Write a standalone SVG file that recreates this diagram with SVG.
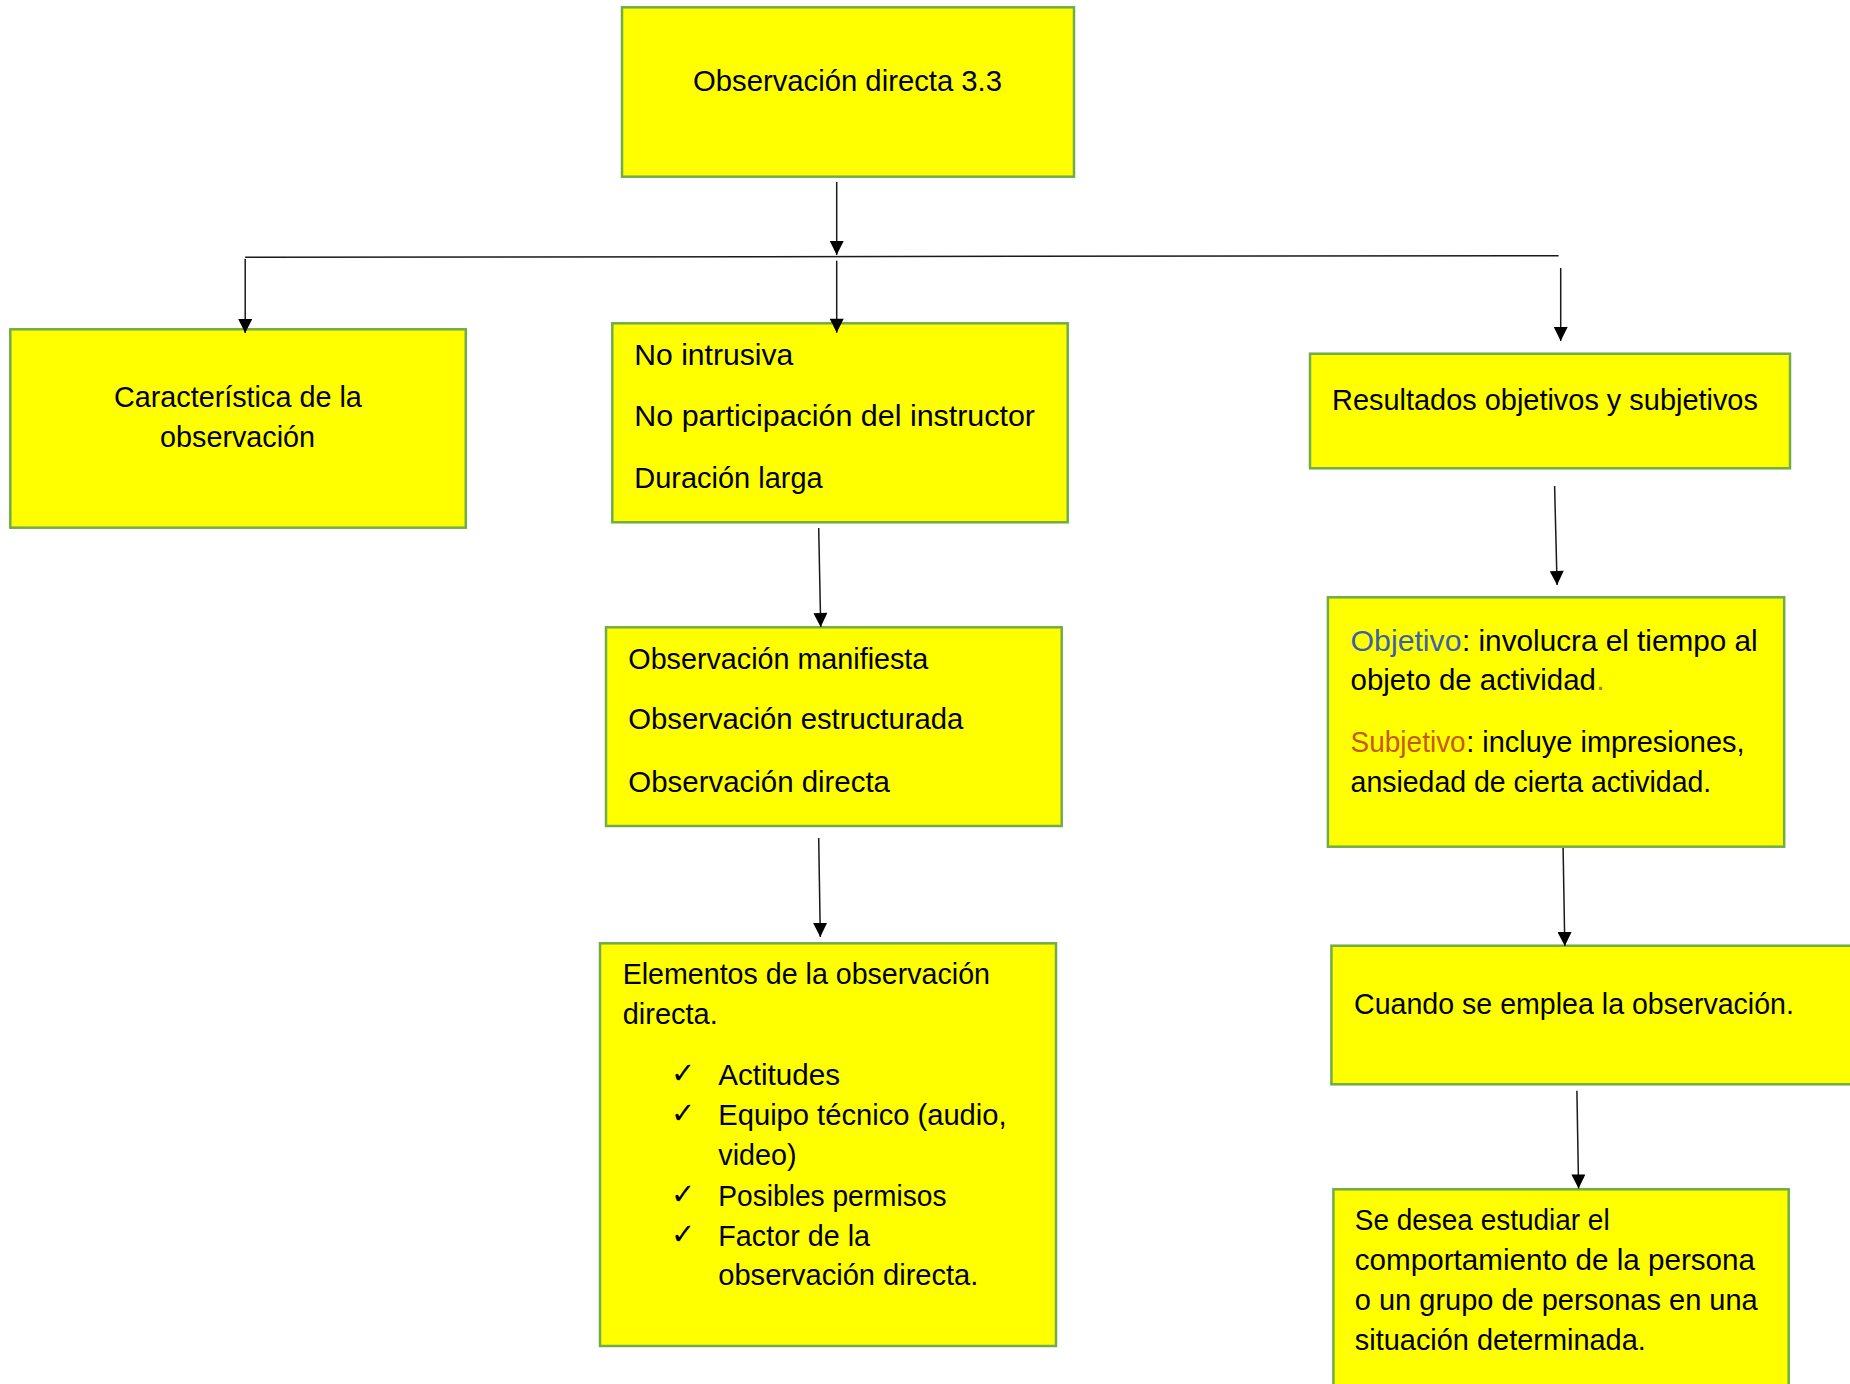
<svg xmlns="http://www.w3.org/2000/svg" width="1850" height="1384" viewBox="0 0 1850 1384">
<style>
.box{fill:#FFFF00;stroke:#70AD47;stroke-width:2.5}
.t{font-family:"Liberation Sans",Arial,sans-serif;font-size:29px;fill:#000}
.ck{font-family:"DejaVu Sans",sans-serif;font-size:29px;font-weight:bold;fill:#000}
.c{fill:none;stroke:#1a1a1a;stroke-width:1.5}
.blue{fill:#3B61AD}
.orange{fill:#C55A11}
</style>
<defs>
<marker id="arr" viewBox="0 0 10 10" refX="10" refY="5" markerWidth="15" markerHeight="14" markerUnits="userSpaceOnUse" orient="auto">
<path d="M0,0 L10,5 L0,10 z" fill="#000"/>
</marker>
</defs>
<rect width="1850" height="1384" fill="#fff"/>
<g id="n-top">
<rect class="box" x="622" y="7.3" width="452" height="169.4"/>
<text class="t" x="693" y="90.7" textLength="309" lengthAdjust="spacingAndGlyphs">Observación directa 3.3</text>
</g>
<g id="n-caracteristica">
<rect class="box" x="10.3" y="329.3" width="455.5" height="198.4"/>
<text class="t" x="113.9" y="407.3" textLength="247.9" lengthAdjust="spacingAndGlyphs">Característica de la</text>
<text class="t" x="160.1" y="447" textLength="155" lengthAdjust="spacingAndGlyphs">observación</text>
</g>
<g id="n-intrusiva">
<rect class="box" x="612.3" y="323.3" width="455.4" height="199"/>
<text class="t" x="634.3" y="365" textLength="159" lengthAdjust="spacingAndGlyphs">No intrusiva</text>
<text class="t" x="634.3" y="426" textLength="400.7" lengthAdjust="spacingAndGlyphs">No participación del instructor</text>
<text class="t" x="634.3" y="487.7" textLength="188.3" lengthAdjust="spacingAndGlyphs">Duración larga</text>
</g>
<g id="n-resultados">
<rect class="box" x="1310" y="353.7" width="480" height="114.6"/>
<text class="t" x="1332.1" y="410" textLength="425.8" lengthAdjust="spacingAndGlyphs">Resultados objetivos y subjetivos</text>
</g>
<g id="n-tipos">
<rect class="box" x="606" y="627.3" width="455.7" height="198.7"/>
<text class="t" x="628.3" y="669.3" textLength="300" lengthAdjust="spacingAndGlyphs">Observación manifiesta</text>
<text class="t" x="628.3" y="729.3" textLength="335" lengthAdjust="spacingAndGlyphs">Observación estructurada</text>
<text class="t" x="628.3" y="791.7" textLength="261.7" lengthAdjust="spacingAndGlyphs">Observación directa</text>
</g>
<g id="n-objetivo">
<rect class="box" x="1327.9" y="597.3" width="456.3" height="249.4"/>
<text class="t blue" x="1350.6" y="650.7" textLength="110.9" lengthAdjust="spacingAndGlyphs">Objetivo</text>
<text class="t" x="1462" y="650.7" textLength="295.7" lengthAdjust="spacingAndGlyphs">: involucra el tiempo al</text>
<text class="t" x="1350.6" y="690" textLength="245.3" lengthAdjust="spacingAndGlyphs">objeto de actividad</text>
<text class="t orange" x="1596.5" y="690">.</text>
<text class="t orange" x="1350.6" y="751.7" textLength="115.1" lengthAdjust="spacingAndGlyphs">Subjetivo</text>
<text class="t" x="1466.2" y="751.7" textLength="278.4" lengthAdjust="spacingAndGlyphs">: incluye impresiones,</text>
<text class="t" x="1350.6" y="791.7" textLength="360.6" lengthAdjust="spacingAndGlyphs">ansiedad de cierta actividad.</text>
</g>
<g id="n-elementos">
<rect class="box" x="600" y="943.3" width="456" height="402.7"/>
<text class="t" x="622.7" y="984" textLength="367.3" lengthAdjust="spacingAndGlyphs">Elementos de la observación</text>
<text class="t" x="622.7" y="1024" textLength="95" lengthAdjust="spacingAndGlyphs">directa.</text>
<text class="ck" x="671" y="1083">✓</text>
<text class="t" x="718.3" y="1085" textLength="121.7" lengthAdjust="spacingAndGlyphs">Actitudes</text>
<text class="ck" x="671" y="1123">✓</text>
<text class="t" x="718.3" y="1125" textLength="288.3" lengthAdjust="spacingAndGlyphs">Equipo técnico (audio,</text>
<text class="t" x="718.3" y="1165" textLength="78.3" lengthAdjust="spacingAndGlyphs">video)</text>
<text class="ck" x="671" y="1204">✓</text>
<text class="t" x="718.3" y="1206" textLength="228.3" lengthAdjust="spacingAndGlyphs">Posibles permisos</text>
<text class="ck" x="671" y="1244">✓</text>
<text class="t" x="718.3" y="1246" textLength="151.7" lengthAdjust="spacingAndGlyphs">Factor de la</text>
<text class="t" x="718.3" y="1285" textLength="260" lengthAdjust="spacingAndGlyphs">observación directa.</text>
</g>
<g id="n-cuando">
<rect class="box" x="1331.4" y="945.7" width="560" height="138.6"/>
<text class="t" x="1354.1" y="1014.3" textLength="439.8" lengthAdjust="spacingAndGlyphs">Cuando se emplea la observación.</text>
</g>
<g id="n-estudiar">
<rect class="box" x="1333.4" y="1189.3" width="455.3" height="220"/>
<text class="t" x="1354.8" y="1230" textLength="254.8" lengthAdjust="spacingAndGlyphs">Se desea estudiar el</text>
<text class="t" x="1354.8" y="1270" textLength="400.2" lengthAdjust="spacingAndGlyphs">comportamiento de la persona</text>
<text class="t" x="1354.8" y="1310" textLength="402.9" lengthAdjust="spacingAndGlyphs">o un grupo de personas en una</text>
<text class="t" x="1354.8" y="1350" textLength="291" lengthAdjust="spacingAndGlyphs">situación determinada.</text>
</g>
<g id="connectors">
<line class="c" x1="836.7" y1="182" x2="836.7" y2="255" marker-end="url(#arr)"/>
<line class="c" x1="245.2" y1="257.3" x2="1558.6" y2="255.7"/>
<line class="c" x1="245.2" y1="259" x2="245.2" y2="333" marker-end="url(#arr)"/>
<line class="c" x1="836.7" y1="260.7" x2="836.7" y2="332.7" marker-end="url(#arr)"/>
<line class="c" x1="1560.7" y1="268" x2="1560.7" y2="341" marker-end="url(#arr)"/>
<line class="c" x1="818.7" y1="528" x2="820.7" y2="627" marker-end="url(#arr)"/>
<line class="c" x1="1554.6" y1="486" x2="1557.1" y2="585" marker-end="url(#arr)"/>
<line class="c" x1="818.7" y1="838" x2="820.3" y2="937" marker-end="url(#arr)"/>
<line class="c" x1="1563.1" y1="848" x2="1564.8" y2="946" marker-end="url(#arr)"/>
<line class="c" x1="1576.9" y1="1090.7" x2="1578.6" y2="1188.5" marker-end="url(#arr)"/>
</g>
</svg>
